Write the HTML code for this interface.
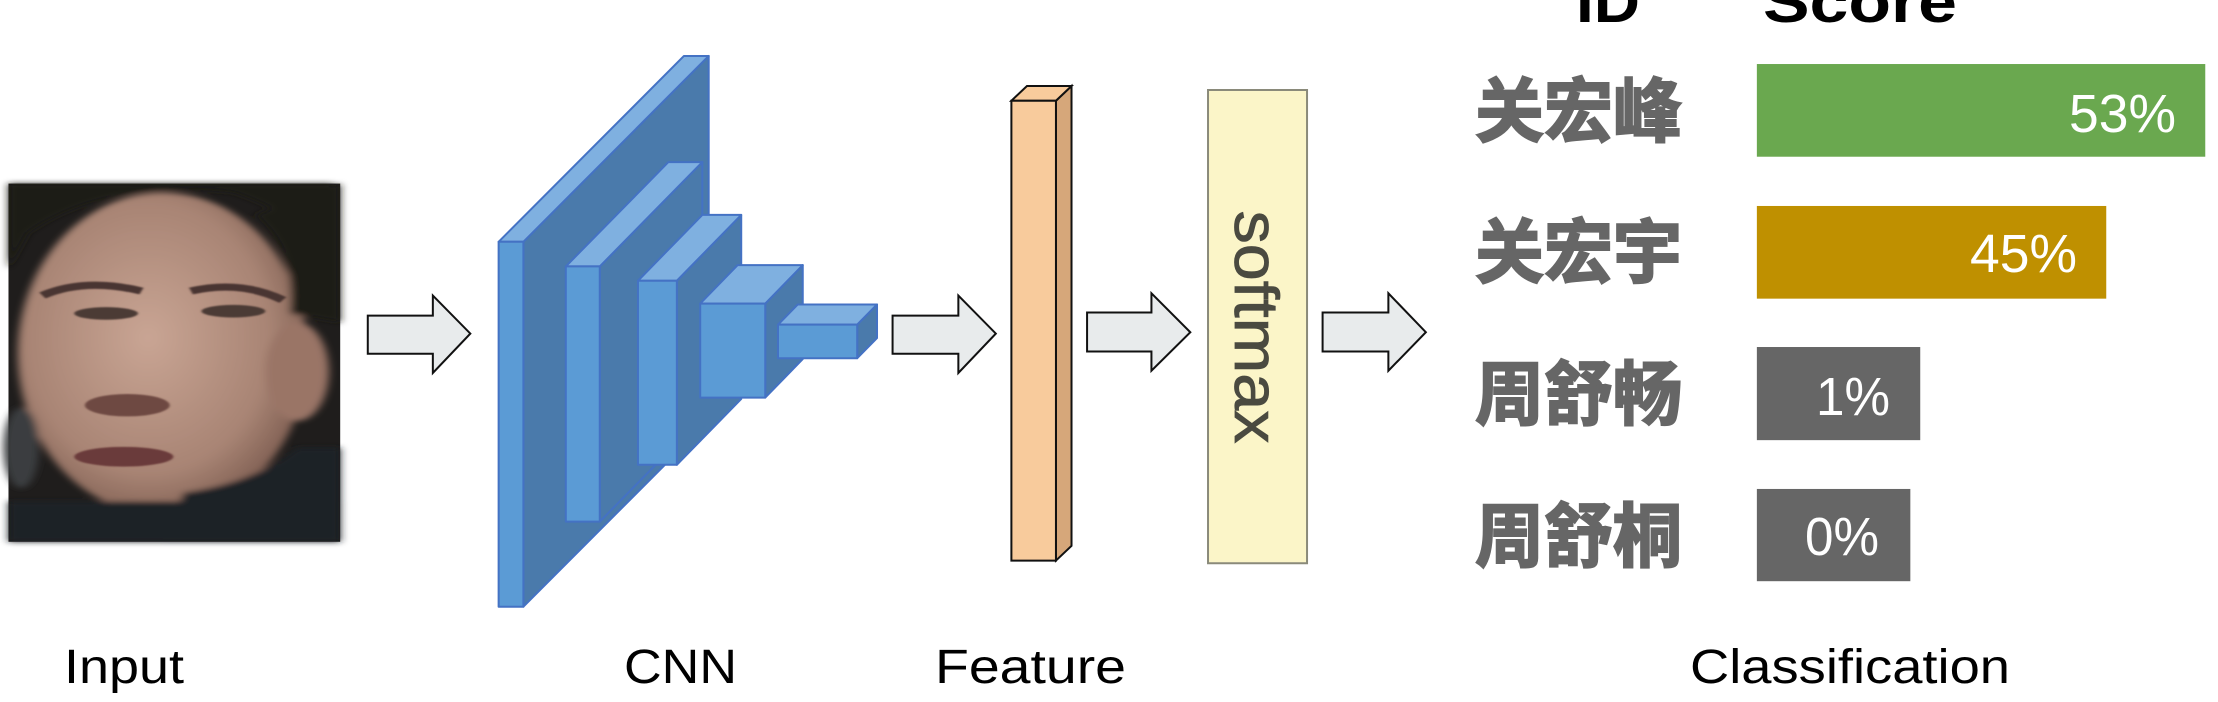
<!DOCTYPE html>
<html><head><meta charset="utf-8"><style>
html,body{margin:0;padding:0;background:#fff;width:2218px;height:702px;overflow:hidden}
svg{display:block}
</style></head><body>
<svg width="2218" height="702" xmlns="http://www.w3.org/2000/svg">
<defs>
<radialGradient id="sk" cx="45%" cy="45%" r="60%"><stop offset="0" stop-color="#c9a594"/><stop offset="0.7" stop-color="#a88474"/><stop offset="1" stop-color="#7a5a4e"/></radialGradient>
<filter id="bl"><feGaussianBlur stdDeviation="6"/></filter>
<filter id="bl2"><feGaussianBlur stdDeviation="2"/></filter>
</defs>
<g transform="scale(0.70727,0.44776)">
<g>
<rect x="12" y="410" width="469" height="800" fill="#1f1d1c"/>
<g filter="url(#bl)">
<ellipse cx="230" cy="790" rx="205" ry="360" fill="url(#sk)"/>
<ellipse cx="420" cy="830" rx="45" ry="110" fill="#9a7466"/>
<path d="M40 520 Q150 400 330 430 Q420 480 470 560 L470 410 L12 410 L12 600 Z" fill="#1c1a19"/>
<path d="M360 480 Q420 560 410 700 L481 720 L481 410 Z" fill="#1c1a19"/>
<rect x="12" y="1120" width="469" height="90" fill="#1d2028"/>
<path d="M260 1100 Q360 1080 420 1000 L481 1000 L481 1210 L230 1210 Z" fill="#1d2028"/>
<ellipse cx="30" cy="1000" rx="25" ry="90" fill="#3a3c40"/>
</g>
<g filter="url(#bl2)">
<path d="M60 660 Q120 620 200 650" stroke="#4a3430" stroke-width="16" fill="none"/>
<path d="M270 650 Q340 625 400 670" stroke="#4a3430" stroke-width="16" fill="none"/>
<ellipse cx="150" cy="700" rx="45" ry="14" fill="#4b3a36"/>
<ellipse cx="330" cy="695" rx="45" ry="14" fill="#4b3a36"/>
<ellipse cx="180" cy="905" rx="60" ry="25" fill="#6e4a42"/>
<ellipse cx="175" cy="1020" rx="70" ry="22" fill="#6a3a3a"/>
</g>
</g>
<g fill="#e8ebec" stroke="#111" stroke-width="2">
<path vector-effect="non-scaling-stroke" d="M520 705 H612 V660 L665 745 L612 833 V790 H520 Z"/>
<path vector-effect="non-scaling-stroke" d="M1262 705 H1355 V660 L1408 745 L1355 833 V790 H1262 Z"/>
<path vector-effect="non-scaling-stroke" d="M1537 698 H1628 V655 L1683 742 L1628 828 V785 H1537 Z"/>
<path vector-effect="non-scaling-stroke" d="M1870 698 H1963 V655 L2016 742 L1963 828 V785 H1870 Z"/>
</g>
<g stroke="#4472c4" stroke-width="2" stroke-linejoin="round">
<polygon vector-effect="non-scaling-stroke" points="740,540 1002,125 1002,940 740,1355" fill="#4a7aab"/>
<polygon vector-effect="non-scaling-stroke" points="705,540 740,540 1002,125 967,125" fill="#7fb0e0"/>
<rect vector-effect="non-scaling-stroke" x="705" y="540" width="35" height="815" fill="#5b9bd5"/>
<polygon vector-effect="non-scaling-stroke" points="848,595 993,362 993,932 848,1165" fill="#4a7aab"/>
<polygon vector-effect="non-scaling-stroke" points="800,595 848,595 993,362 945,362" fill="#7fb0e0"/>
<rect vector-effect="non-scaling-stroke" x="800" y="595" width="48" height="570" fill="#5b9bd5"/>
<polygon vector-effect="non-scaling-stroke" points="957,627 1048,480 1048,891 957,1038" fill="#4a7aab"/>
<polygon vector-effect="non-scaling-stroke" points="902,627 957,627 1048,480 993,480" fill="#7fb0e0"/>
<rect vector-effect="non-scaling-stroke" x="902" y="627" width="55" height="411" fill="#5b9bd5"/>
<polygon vector-effect="non-scaling-stroke" points="1082,678 1135,592 1135,802 1082,888" fill="#4a7aab"/>
<polygon vector-effect="non-scaling-stroke" points="990,678 1082,678 1135,592 1043,592" fill="#7fb0e0"/>
<rect vector-effect="non-scaling-stroke" x="990" y="678" width="92" height="210" fill="#5b9bd5"/>
<polygon vector-effect="non-scaling-stroke" points="1212,725 1240,680 1240,755 1212,800" fill="#4a7aab"/>
<polygon vector-effect="non-scaling-stroke" points="1100,725 1212,725 1240,680 1128,680" fill="#7fb0e0"/>
<rect vector-effect="non-scaling-stroke" x="1100" y="725" width="112" height="75" fill="#5b9bd5"/>
</g>
<g stroke="#111" stroke-width="2">
<polygon vector-effect="non-scaling-stroke" points="1493,225 1515,192 1515,1219 1493,1252" fill="#d6a77a"/>
<polygon vector-effect="non-scaling-stroke" points="1430,225 1493,225 1515,192 1452,192" fill="#f8cb9c"/>
<rect vector-effect="non-scaling-stroke" x="1430" y="225" width="63" height="1027" fill="#f8cb9c"/>
</g>
<rect vector-effect="non-scaling-stroke" x="1708" y="201" width="140" height="1057" fill="#fbf5c8" stroke="#8a8a7a" stroke-width="2"/>
<rect x="2484" y="143" width="634" height="207" fill="#6aa84f"/>
<rect x="2484" y="460" width="494" height="207" fill="#bf9000"/>
<rect x="2484" y="775" width="231" height="208" fill="#666666"/>
<rect x="2484" y="1092" width="217" height="206" fill="#666666"/>
</g>
<text transform="translate(1235,327) rotate(90)" text-anchor="middle" font-family="Liberation Sans, sans-serif" font-size="62" fill="#4a4a40" stroke="#4a4a40" stroke-width="0.8" textLength="233" lengthAdjust="spacingAndGlyphs">softmax</text>
<g font-family="Liberation Sans, sans-serif" font-weight="bold" font-size="58" fill="#000">
<text x="1576" y="22" textLength="64" lengthAdjust="spacingAndGlyphs">ID</text>
<text x="1763" y="22" textLength="194" lengthAdjust="spacingAndGlyphs">Score</text>
</g>
<g font-family="Liberation Sans, 'Noto Sans CJK SC', sans-serif" font-weight="bold" font-size="70" fill="#666" stroke="#666" stroke-width="2">
<text x="1475" y="136" textLength="207" lengthAdjust="spacingAndGlyphs">关宏峰</text>
<text x="1475" y="277" textLength="207" lengthAdjust="spacingAndGlyphs">关宏宇</text>
<text x="1475" y="419" textLength="207" lengthAdjust="spacingAndGlyphs">周舒畅</text>
<text x="1475" y="561" textLength="207" lengthAdjust="spacingAndGlyphs">周舒桐</text>
</g>
<g font-family="Liberation Sans, sans-serif" font-size="54" fill="#fff">
<text x="2069" y="132" textLength="107" lengthAdjust="spacingAndGlyphs">53%</text>
<text x="1970" y="272" textLength="107" lengthAdjust="spacingAndGlyphs">45%</text>
<text x="1816" y="415" textLength="74" lengthAdjust="spacingAndGlyphs">1%</text>
<text x="1805" y="555" textLength="74" lengthAdjust="spacingAndGlyphs">0%</text>
</g>
<g font-family="Liberation Sans, sans-serif" font-size="48" fill="#000">
<text x="64" y="683" textLength="120" lengthAdjust="spacingAndGlyphs">Input</text>
<text x="624" y="683" textLength="113" lengthAdjust="spacingAndGlyphs">CNN</text>
<text x="935" y="683" textLength="191" lengthAdjust="spacingAndGlyphs">Feature</text>
<text x="1690" y="683" textLength="320" lengthAdjust="spacingAndGlyphs">Classification</text>
</g>
</svg>
</body></html>
